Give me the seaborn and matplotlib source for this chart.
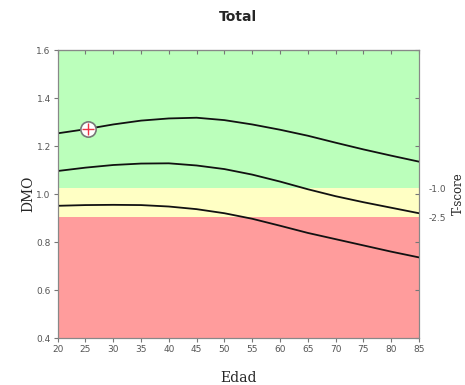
import matplotlib
matplotlib.use("Agg")
import matplotlib.pyplot as plt
import numpy as np
import pandas as pd
import seaborn as sns

# -- Data
edad = [20, 25, 30, 35, 40, 45, 50, 55, 60, 65, 70, 75, 80, 85]
curva_alta = [1.253, 1.270, 1.290, 1.306, 1.315, 1.318, 1.308, 1.290, 1.268, 1.243, 1.214, 1.186, 1.160, 1.135]
curva_media = [1.096, 1.110, 1.121, 1.127, 1.128, 1.119, 1.104, 1.081, 1.052, 1.020, 0.991, 0.966, 0.943, 0.920]
curva_baja = [0.951, 0.954, 0.955, 0.954, 0.948, 0.937, 0.920, 0.897, 0.868, 0.838, 0.812, 0.786, 0.760, 0.736]

paciente_edad = [25.4]
paciente_dmo = [1.271]

# T-score band limits (DMO)
limite_t_menos1 = 1.025
limite_t_menos25 = 0.904
tscore_labels = ["-1.0", "-2.5"]
yticks = [0.4, 0.6, 0.8, 1.0, 1.2, 1.4, 1.6]
xticks = list(range(20, 90, 5))

df = pd.DataFrame({
    "Edad": edad * 3,
    "DMO": curva_alta + curva_media + curva_baja,
    "curva": ["alta"] * len(edad) + ["media"] * len(edad) + ["baja"] * len(edad),
})

sns.set_theme(style="white")
fig = plt.figure(figsize=(4.65, 3.85), dpi=100)
ax = fig.add_axes([0.124, 0.122, 0.777, 0.748])

# -- background bands
ax.axhspan(limite_t_menos1, 1.6, color="#bbffbb", lw=0, zorder=0)
ax.axhspan(limite_t_menos25, limite_t_menos1, color="#ffffc4", lw=0, zorder=0)
ax.axhspan(0.4, limite_t_menos25, color="#ff9c9c", lw=0, zorder=0)

# -- reference curves
sns.lineplot(data=df, x="Edad", y="DMO", units="curva", estimator=None,
             color="#111111", lw=1.3, ax=ax, zorder=3)

# -- patient marker
ax.plot(paciente_edad, paciente_dmo, "o", ms=11, mfc="white", mec="#777777", mew=1.2, zorder=4)
ax.plot(paciente_edad, paciente_dmo, "+", ms=9, mec="#ee3344", mew=1.0, zorder=5)

ax.set_xlim(20, 85)
ax.set_ylim(0.4, 1.6)
ax.set_xticks(xticks)
ax.set_yticks(yticks, labels=[f"{v:.1f}" for v in yticks])
ax.tick_params(axis="both", direction="out", length=3, width=0.8, color="#777777",
               labelsize=6.5, labelcolor="#555555", pad=2)
ax.tick_params(left=True, bottom=True)

# inward ticks on top and right spines
top = ax.secondary_xaxis("top")
top.set_xticks(xticks, labels=[])
top.tick_params(direction="in", length=3, width=0.8, color="#777777")

right = ax.twinx()
right.set_ylim(0.4, 1.6)
right.set_yticks(yticks, labels=[])
right.tick_params(axis="y", which="major", direction="in", length=3, width=0.8,
                  color="#777777", right=True)
right.set_yticks([limite_t_menos1, limite_t_menos25], labels=tscore_labels, minor=True)
right.tick_params(axis="y", which="minor", length=0, labelsize=6.5, labelcolor="#555555", pad=7)
right.grid(False)

for a in (ax, top, right):
    for s in a.spines.values():
        s.set_color("#888888")
        s.set_linewidth(0.8)

ax.set_xlabel("Edad", family="DejaVu Serif", fontsize=10, labelpad=12)
ax.set_ylabel("DMO", family="DejaVu Serif", fontsize=10, labelpad=1)
right.set_ylabel("T-score", family="DejaVu Serif", fontsize=8.5, labelpad=4)
ax.set_title("Total", fontsize=10, fontweight="bold", pad=21)

fig.savefig("out.png", dpi=100)
